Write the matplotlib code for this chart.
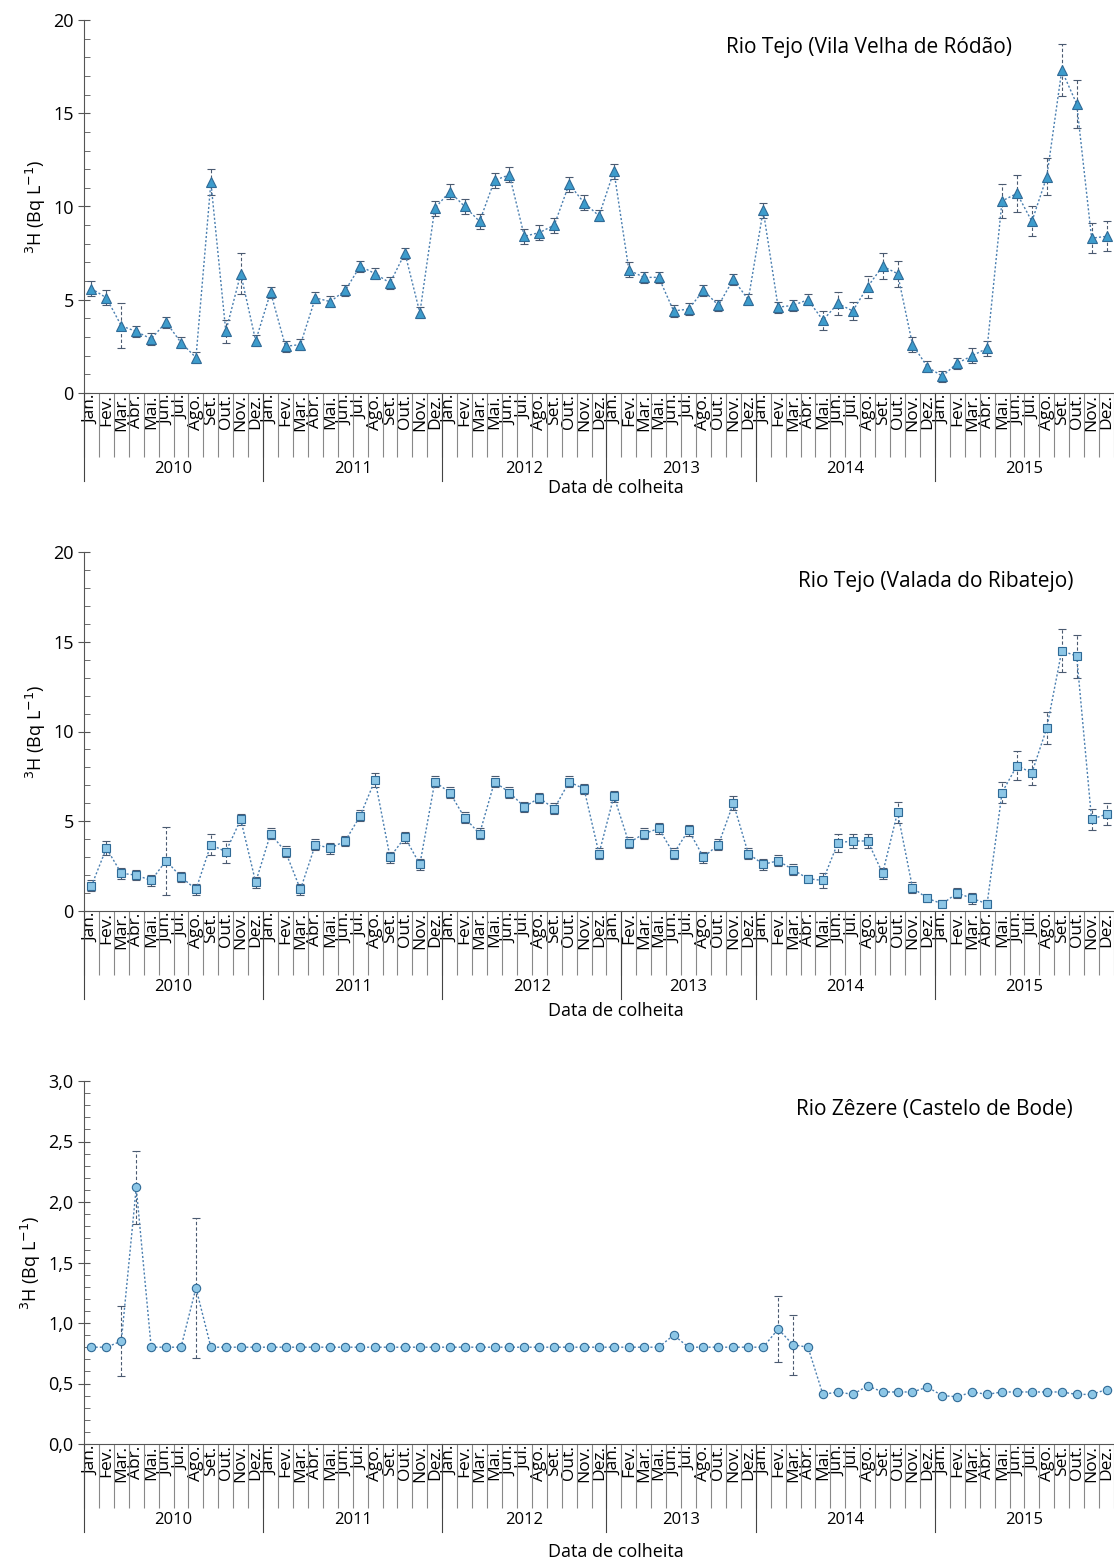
import matplotlib
matplotlib.use("Agg")
import matplotlib.pyplot as plt
import matplotlib.transforms as mtrans
import numpy as np

M12 = ["Jan.","Fev.","Mar.","Abr.","Mai.","Jun.","Jul.","Ago.","Set.","Out.","Nov.","Dez."]
years = ["2010","2011","2012","2013","2014","2015"]

# Panel 1 - Vila Velha de Ródão
m1_2012 = ["Jan.","Fev.","Mar.","Mai.","Jun.","Jul.","Ago.","Set.","Out.","Nov.","Dez."]
m1_2013 = ["Jan.","Fev.","Mar.","Mai.","Jun.","Jul.","Ago.","Out.","Nov.","Dez."]
months1 = [M12, M12, m1_2012, m1_2013, M12, M12]
v1 = [5.6,5.1,3.6,3.3,2.9,3.8,2.7,1.9,11.3,3.3,6.4,2.8,
      5.4,2.5,2.6,5.1,4.9,5.5,6.8,6.4,5.9,7.5,4.3,9.9,
      10.8,10.0,9.2,11.4,11.7,8.4,8.6,9.0,11.2,10.2,9.5,
      11.9,6.6,6.2,6.2,4.4,4.5,5.5,4.7,6.1,5.0,
      9.8,4.6,4.7,5.0,3.9,4.8,4.4,5.7,6.8,6.4,2.6,1.4,
      0.9,1.6,2.0,2.4,10.3,10.7,9.2,11.6,17.3,15.5,8.3,8.4]
e1 = [0.4,0.4,1.2,0.3,0.3,0.3,0.3,0.3,0.7,0.6,1.1,0.3,
      0.3,0.3,0.3,0.3,0.3,0.3,0.3,0.3,0.3,0.3,0.3,0.4,
      0.4,0.4,0.4,0.4,0.4,0.4,0.4,0.4,0.4,0.4,0.3,
      0.4,0.4,0.3,0.3,0.3,0.3,0.3,0.3,0.3,0.3,
      0.4,0.3,0.3,0.3,0.5,0.6,0.5,0.6,0.7,0.7,0.4,0.3,
      0.3,0.3,0.4,0.4,0.9,1.0,0.8,1.0,1.4,1.3,0.8,0.8]

# Panel 2 - Valada do Ribatejo
m2_2012 = ["Jan.","Fev.","Mar.","Mai.","Jun.","Jul.","Ago.","Set.","Out.","Nov.","Dez.","Jan."]
m2_2013 = ["Fev.","Mar.","Mai.","Jun.","Jul.","Ago.","Out.","Nov.","Dez."]
months2 = [M12, M12, m2_2012, m2_2013, M12, M12]
v2 = [1.4,3.5,2.1,2.0,1.7,2.8,1.9,1.2,3.7,3.3,5.1,1.6,
      4.3,3.3,1.2,3.7,3.5,3.9,5.3,7.3,3.0,4.1,2.6,7.2,
      6.6,5.2,4.3,7.2,6.6,5.8,6.3,5.7,7.2,6.8,3.2,6.4,
      3.8,4.3,4.6,3.2,4.5,3.0,3.7,6.0,3.2,
      2.6,2.8,2.3,1.8,1.7,3.8,3.9,3.9,2.1,5.5,1.3,0.7,
      0.4,1.0,0.7,0.4,6.6,8.1,7.7,10.2,14.5,14.2,5.1,5.4]
e2 = [0.3,0.4,0.3,0.3,0.3,1.9,0.3,0.3,0.6,0.6,0.3,0.3,
      0.3,0.3,0.3,0.3,0.3,0.3,0.3,0.4,0.3,0.3,0.3,0.3,
      0.3,0.3,0.3,0.3,0.3,0.3,0.3,0.3,0.3,0.3,0.3,0.3,
      0.3,0.3,0.3,0.3,0.3,0.3,0.3,0.4,0.3,
      0.3,0.3,0.3,0.2,0.4,0.5,0.4,0.4,0.3,0.6,0.3,0.2,
      0.2,0.3,0.3,0.2,0.6,0.8,0.7,0.9,1.2,1.2,0.6,0.6]

# Panel 3 - Castelo de Bode
months3 = [M12, M12, m1_2012, m1_2013, M12, M12]
v3 = [0.80,0.80,0.85,2.12,0.80,0.80,0.80,1.29,0.80,0.80,0.80,0.80,
      0.80,0.80,0.80,0.80,0.80,0.80,0.80,0.80,0.80,0.80,0.80,0.80,
      0.80,0.80,0.80,0.80,0.80,0.80,0.80,0.80,0.80,0.80,0.80,
      0.80,0.80,0.80,0.80,0.90,0.80,0.80,0.80,0.80,0.80,
      0.80,0.95,0.82,0.80,0.41,0.43,0.41,0.48,0.43,0.43,0.43,0.47,
      0.40,0.39,0.43,0.41,0.43,0.43,0.43,0.43,0.43,0.41,0.41,0.45]
e3 = [0,0,0.29,0.30,0,0,0,0.58,0,0,0,0,
      0,0,0,0,0,0,0,0,0,0,0,0,
      0,0,0,0,0,0,0,0,0,0,0,
      0,0,0,0,0,0,0,0,0,0,
      0,0.27,0.25,0,0,0,0,0,0,0,0,0,
      0,0,0,0,0,0,0,0,0,0,0,0]

W, H = 1114, 1562
fig = plt.figure(figsize=(W/100, H/100), dpi=100)
plt.rcParams['font.family'] = ['Open Sans', 'DejaVu Sans']

def panel(top, bottom, months, vals, errs, ylim, yticks, ylabels, marker, fc, ms,
          title, tx, ty, xlab_y):
    ax = fig.add_axes([84/W, 1-bottom/H, 1-84/W, (bottom-top)/H])
    labels = [m for grp in months for m in grp]
    n = len(labels)
    x = np.arange(n)
    eb = ax.errorbar(x, vals, yerr=errs, fmt='none', ecolor='#4a5a70', elinewidth=0.8,
                     capsize=3, capthick=0.8, zorder=2)
    eb.lines[2][0].set_linestyle((0, (3, 2)))
    ax.plot(x, vals, linestyle=(0, (1.5, 1.5)), color='#4a7fb0', lw=1.0, marker=marker,
            ms=ms, mfc=fc, mec='#2f6a96', mew=0.8, zorder=3)
    ax.set_xlim(-0.5, n-0.5)
    ax.set_ylim(*ylim)
    ax.set_yticks(yticks)
    ax.set_yticklabels(ylabels, fontsize=13)
    ax.tick_params(axis='y', which='major', length=8, direction='inout', color='#555555')
    ax.yaxis.set_minor_locator(matplotlib.ticker.FixedLocator(
        np.arange(ylim[0], ylim[1]+1e-9, (yticks[1]-yticks[0])/5)))
    ax.tick_params(axis='y', which='minor', length=4, direction='in', color='#555555')
    ax.set_xticks(x)
    ax.set_xticklabels(labels, rotation=90, fontsize=12.5, va='top')
    ax.tick_params(axis='x', which='major', length=0, pad=1)
    ax.set_xticks(np.arange(-0.5, n, 1), minor=True)
    ax.tick_params(axis='x', which='minor', length=46, color='#888888', width=0.8)
    for s in ['top', 'right']:
        ax.spines[s].set_visible(False)
    for s in ['left', 'bottom']:
        ax.spines[s].set_color('#555555')
    ax.set_ylabel("$^{3}$H (Bq L$^{-1}$)", fontsize=13)
    fig.text(tx/W, 1-ty/H, title, ha='right', va='center', fontsize=15)
    tr = mtrans.blended_transform_factory(ax.transData, fig.transFigure)
    ybot = 1-bottom/H
    start = -0.5
    bounds = [start]
    for g in months:
        start += len(g)
        bounds.append(start)
    for b in bounds[:-1]:
        ax.add_line(plt.Line2D([b, b], [ybot, ybot-88/H], transform=tr, color='#444444',
                               lw=0.8, clip_on=False))
    for i, yr in enumerate(years):
        ax.text((bounds[i]+bounds[i+1])/2, ybot-76/H, yr, transform=tr, ha='center',
                va='center', fontsize=12)
    fig.text(616/W, 1-xlab_y/H, "Data de colheita", ha='center', va='center', fontsize=13)

panel(20, 393, months1, v1, e1, (0, 20), [0,5,10,15,20], ["0","5","10","15","20"],
      '^', '#3d9ccc', 7, "Rio Tejo (Vila Velha de Ródão)", 1012, 47, 488)
panel(552, 911, months2, v2, e2, (0, 20), [0,5,10,15,20], ["0","5","10","15","20"],
      's', '#8cc6e6', 6, "Rio Tejo (Valada do Ribatejo)", 1073, 581, 1011)
panel(1081, 1444, months3, v3, e3, (0, 3), [0,0.5,1.0,1.5,2.0,2.5,3.0],
      ["0,0","0,5","1,0","1,5","2,0","2,5","3,0"],
      'o', '#8cc6e6', 6, "Rio Zêzere (Castelo de Bode)", 1073, 1109, 1552)

fig.savefig("out.png", dpi=100)
